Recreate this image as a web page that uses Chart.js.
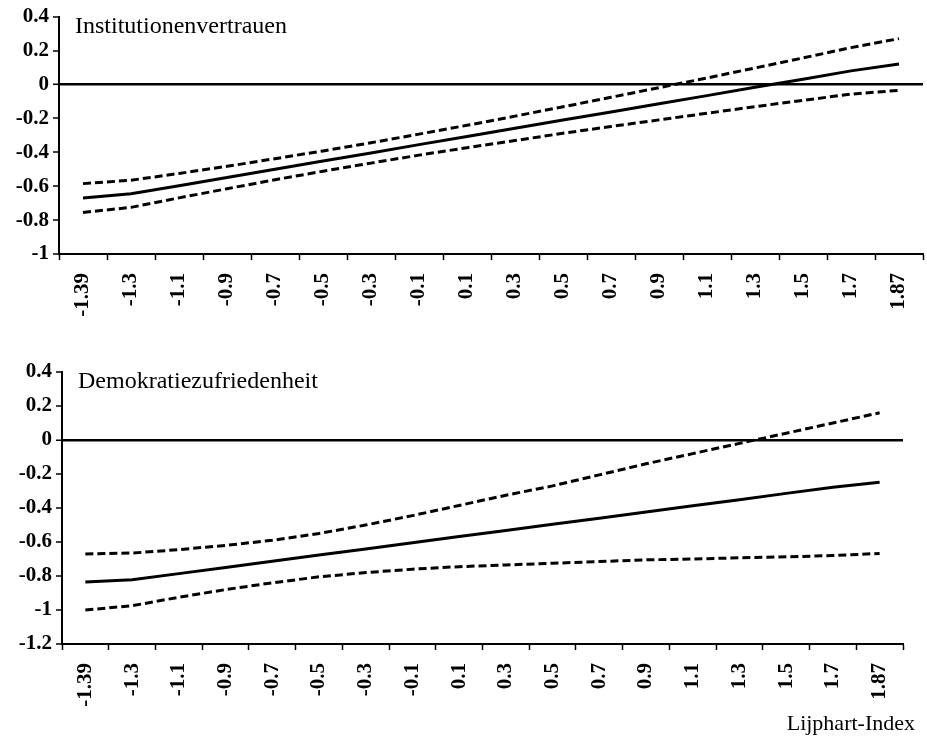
<!DOCTYPE html>
<html>
<head>
<meta charset="utf-8">
<script src="https://cdn.jsdelivr.net/npm/chart.js@4.4.1/dist/chart.umd.min.js"></script>
<style>
  body { margin: 0; background: #fff; }
  #wrap { position: relative; width: 927px; height: 739px; }
  .panel { position: absolute; left: 0; width: 927px; }
  #axisTitle { position: absolute; right: 12px; top: 710px; font: 22px "Liberation Serif", serif; color: #000; }
</style>
</head>
<body>
<div id="wrap">
  <div class="panel" style="top:0;height:340px"><canvas id="chartTop" width="927" height="340"></canvas></div>
  <div class="panel" style="top:345px;height:380px"><canvas id="chartBottom" width="927" height="380"></canvas></div>
  <div id="axisTitle">Lijphart-Index</div>
</div>
<script>
// Lijphart-Index Kategorien
const kategorien = ['-1.39','-1.3','-1.1','-0.9','-0.7','-0.5','-0.3','-0.1','0.1','0.3','0.5','0.7','0.9','1.1','1.3','1.5','1.7','1.87'];

// Institutionenvertrauen: Effekt und Konfidenzband
const instEffekt = [-0.67,-0.645,-0.597,-0.549,-0.50,-0.452,-0.404,-0.355,-0.307,-0.259,-0.21,-0.162,-0.114,-0.066,-0.017,0.031,0.08,0.12];
const instOben   = [-0.585,-0.565,-0.525,-0.483,-0.438,-0.392,-0.344,-0.293,-0.241,-0.187,-0.132,-0.076,-0.019,0.038,0.097,0.156,0.217,0.27];
const instUnten  = [-0.755,-0.725,-0.669,-0.615,-0.562,-0.512,-0.464,-0.417,-0.373,-0.331,-0.288,-0.248,-0.209,-0.17,-0.131,-0.094,-0.057,-0.035];

// Demokratiezufriedenheit
const demEffekt = [-0.835,-0.822,-0.786,-0.75,-0.713,-0.677,-0.641,-0.605,-0.568,-0.532,-0.496,-0.46,-0.423,-0.387,-0.351,-0.314,-0.278,-0.248];
const demOben   = [-0.67,-0.665,-0.645,-0.62,-0.59,-0.55,-0.50,-0.445,-0.385,-0.325,-0.27,-0.205,-0.14,-0.08,-0.02,0.04,0.10,0.16];
const demUnten  = [-1.0,-0.975,-0.925,-0.88,-0.84,-0.805,-0.78,-0.76,-0.745,-0.735,-0.725,-0.715,-0.705,-0.70,-0.693,-0.687,-0.68,-0.667];

const SERIF = '"Liberation Serif", "Times New Roman", serif';

function linie(daten, gestrichelt) {
    return {
        data: daten,
        borderColor: '#000',
        borderWidth: 3,
        borderDash: gestrichelt ? [8, 4] : [],
        pointRadius: 0,
        tension: 0,
        fill: false
    };
}

function titelPlugin(text) {
    return {
        id: 'panelTitel',
        afterDraw(chart) {
            const c = chart.ctx, a = chart.chartArea;
            c.save();
            c.font = '24px ' + SERIF;
            c.fillStyle = '#000';
            c.textBaseline = 'alphabetic';
            c.fillText(text, a.left + 16, a.top + 16);
            c.restore();
        }
    };
}

function baueChart(id, titel, reihen, yMin, yBreite, xHoehe, padding) {
    const ctx = document.getElementById(id).getContext('2d');
    return new Chart(ctx, {
        type: 'line',
        data: { labels: kategorien, datasets: reihen.map((r, i) => linie(r, i > 0)) },
        options: {
            responsive: false,
            animation: false,
            layout: { padding },
            plugins: { legend: { display: false }, tooltip: { enabled: false } },
            scales: {
                x: {
                    offset: true,
                    // feste Höhe, kein Extra-Rand für das letzte gedrehte Label
                    afterFit: s => { s.height = xHoehe; s.paddingRight = 0; s.paddingLeft = 0; },
                    grid: { offset: true, drawOnChartArea: false, drawTicks: true, tickLength: 6, tickColor: '#000', tickWidth: 1.5 },
                    border: { display: true, color: '#000', width: 2 },
                    ticks: { color: '#000', minRotation: 90, maxRotation: 90, padding: 13, autoSkip: false,
                              font: { family: SERIF, size: 21, weight: 'bold' } }
                },
                y: {
                    min: yMin, max: 0.4,
                    afterFit: s => { s.width = yBreite; },
                    grid: { drawTicks: true, tickLength: 6, tickColor: '#000', tickWidth: 1.5,
                            color: c => (c.tick && Math.abs(c.tick.value) < 1e-9) ? '#000' : 'rgba(0,0,0,0)',
                            lineWidth: c => (c.tick && Math.abs(c.tick.value) < 1e-9) ? 2.5 : 0 },
                    border: { display: true, color: '#000', width: 2 },
                    ticks: { color: '#000', stepSize: 0.2, padding: 4,
                             font: { family: SERIF, size: 21, weight: 'bold' },
                             callback: v => String(Math.round(v * 10) / 10) }
                }
            }
        },
        plugins: [titelPlugin(titel)]
    });
}

baueChart('chartTop', 'Institutionenvertrauen', [instEffekt, instOben, instUnten], -1, 59, 86, { top: 0, right: 4, left: 0, bottom: 0 });
baueChart('chartBottom', 'Demokratiezufriedenheit', [demEffekt, demOben, demUnten], -1.2, 62, 81, { top: 27, right: 24, left: 0, bottom: 0 });
</script>
</body>
</html>
